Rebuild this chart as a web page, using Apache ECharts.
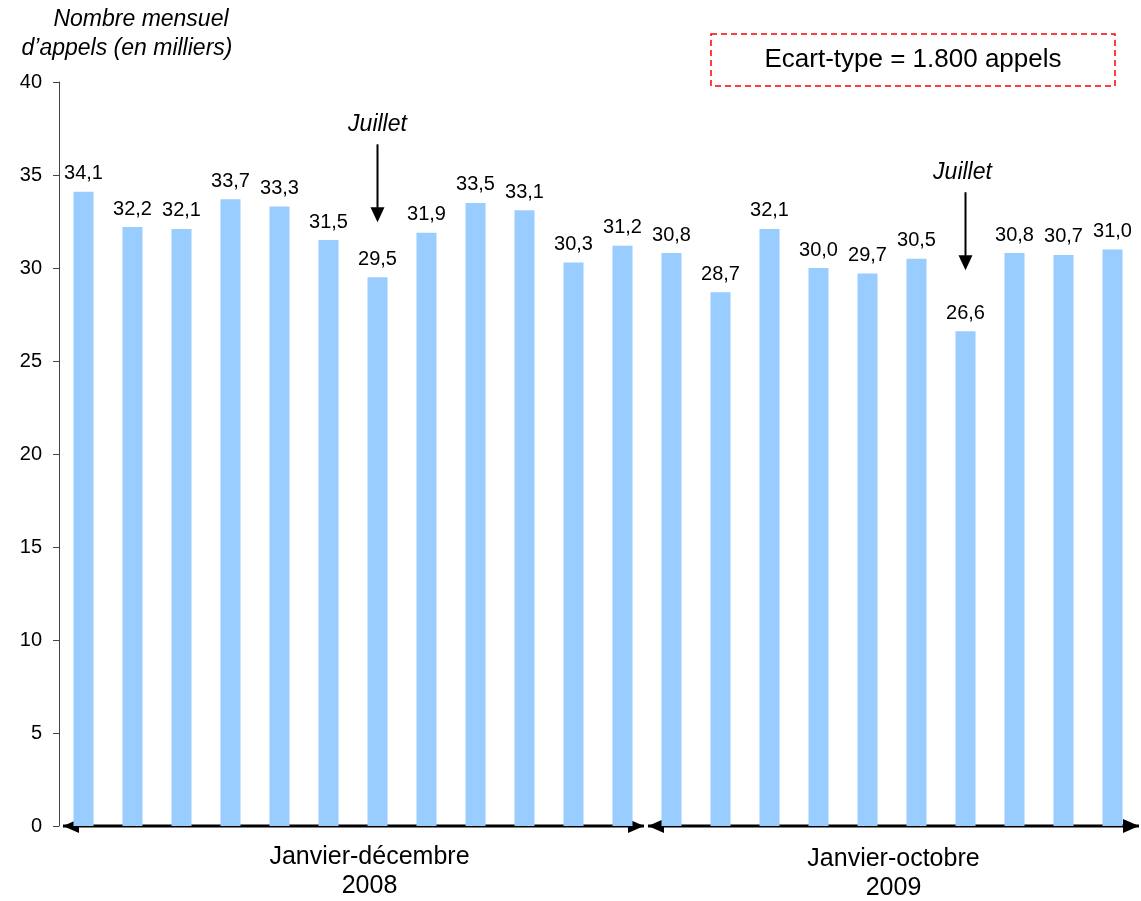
<!DOCTYPE html>
<html lang="fr">
<head>
<meta charset="UTF-8">
<title>Nombre mensuel d'appels</title>
<script src="https://cdn.jsdelivr.net/npm/echarts@6/dist/echarts.min.js"></script>
<style>
  html, body { margin: 0; padding: 0; background: #fff; }
  #main { width: 1141px; height: 901px; }
</style>
</head>
<body>
<div id="main"></div>
<script>
// mois (axe des x, non affichés)
var mois = ['janv08','févr08','mars08','avr08','mai08','juin08','juil08','août08','sept08','oct08','nov08','déc08',
            'janv09','févr09','mars09','avr09','mai09','juin09','juil09','août09','sept09','oct09'];
// nombre d'appels en milliers
var appels = [34.1, 32.2, 32.1, 33.7, 33.3, 31.5, 29.5, 31.9, 33.5, 33.1, 30.3, 31.2,
              30.8, 28.7, 32.1, 30.0, 29.7, 30.5, 26.6, 30.8, 30.7, 31.0];
var yTicks = [0, 5, 10, 15, 20, 25, 30, 35, 40];
// periodes : [premier index, dernier index, libellé]
var periodes = [[0, 11, 'Janvier-décembre\n2008'], [12, 21, 'Janvier-octobre\n2009']];
var juillets = [6, 18];

var FONT = "'Liberation Sans', Arial, Helvetica, sans-serif";
var chart = echarts.init(document.getElementById('main'));

var option = {
    animation: false,
    grid: { left: 59, right: 4, top: 82, bottom: 75 },
    xAxis: {
        type: 'category',
        data: mois,
        axisLine: { show: false },
        axisTick: { show: false },
        axisLabel: { show: false }
    },
    yAxis: {
        type: 'value',
        min: yTicks[0],
        max: yTicks[yTicks.length - 1],
        interval: 5,
        splitLine: { show: false },
        axisLine: { show: true, lineStyle: { color: '#444', width: 1 } },
        axisTick: { show: true, length: 6, lineStyle: { color: '#444' } },
        axisLabel: { color: '#000', fontSize: 20, fontFamily: FONT, margin: 17 }
    },
    series: [{
        type: 'bar',
        data: appels,
        barWidth: 20,
        itemStyle: { color: '#99CCFF' },
        label: {
            show: true,
            position: 'top',
            distance: 8,
            color: '#000',
            fontSize: 20,
            fontFamily: FONT,
            formatter: function (p) { return p.value.toFixed(1).replace('.', ','); }
        }
    }]
};
chart.setOption(option);

function px(i, v) { return chart.convertToPixel({ seriesIndex: 0 }, [i, v]); }

var band = px(1, 0)[0] - px(0, 0)[0];
var y0 = px(0, 0)[1];
var g = [];

function head(x, y, dir) {
    return {
        type: 'polygon',
        shape: { points: [[x, y], [x - dir * 16, y - 7], [x - dir * 16, y + 7]] },
        style: { fill: '#000' }
    };
}

periodes.forEach(function (p, k) {
    var x1 = px(p[0], 0)[0] - band / 2 + (k === 0 ? 4 : 1);
    var x2 = px(p[1], 0)[0] + band / 2 + (k === 0 ? -3 : 2);
    g.push({ type: 'line', shape: { x1: x1, y1: y0, x2: x2, y2: y0 }, style: { stroke: '#000', lineWidth: 3 } });
    g.push(head(x1, y0, -1));
    g.push(head(x2, y0, 1));
    var lines = p[2].split('\n');
    var cx = k === 0 ? (x1 + x2) / 2 + 16 : (x1 + x2) / 2;
    var dy = k === 0 ? 0 : 2;
    g.push({ type: 'text', x: cx, y: y0 + 31 + dy, style: { text: lines[0], font: '25px ' + FONT, fill: '#000', align: 'center', verticalAlign: 'middle' } });
    g.push({ type: 'text', x: cx, y: y0 + 60 + dy, style: { text: lines[1], font: '25px ' + FONT, fill: '#000', align: 'center', verticalAlign: 'middle' } });
});

juillets.forEach(function (i, k) {
    var top = px(i, appels[i]);
    var tip = top[1] - (k === 0 ? 55 : 61);
    var start = tip - 78;
    g.push({ type: 'line', shape: { x1: top[0], y1: start, x2: top[0], y2: tip - 12 }, style: { stroke: '#000', lineWidth: 2 } });
    g.push({ type: 'polygon', shape: { points: [[top[0], tip], [top[0] - 7, tip - 15], [top[0] + 7, tip - 15]] }, style: { fill: '#000' } });
    g.push({ type: 'text', x: top[0] - (k === 0 ? 0 : 3), y: start - 20, style: { text: 'Juillet', font: 'italic 23px ' + FONT, fill: '#000', align: 'center', verticalAlign: 'middle' } });
});

// titre de l'axe des y
g.push({ type: 'text', x: 141, y: 20, style: { text: 'Nombre mensuel', font: 'italic 23px ' + FONT, fill: '#000', align: 'center', verticalAlign: 'middle' } });
g.push({ type: 'text', x: 127, y: 49, style: { text: 'd\u2019appels (en milliers)', font: 'italic 23px ' + FONT, fill: '#000', align: 'center', verticalAlign: 'middle' } });

// encadré écart-type
g.push({ type: 'rect', shape: { x: 711, y: 34, width: 404, height: 52 }, style: { fill: '#fff', stroke: '#FF0000', lineWidth: 1.5, lineDash: [6, 4] } });
g.push({ type: 'text', x: 913, y: 60, style: { text: 'Ecart-type = 1.800 appels', font: '26px ' + FONT, fill: '#000', align: 'center', verticalAlign: 'middle' } });

chart.setOption({ graphic: g });
</script>
</body>
</html>
